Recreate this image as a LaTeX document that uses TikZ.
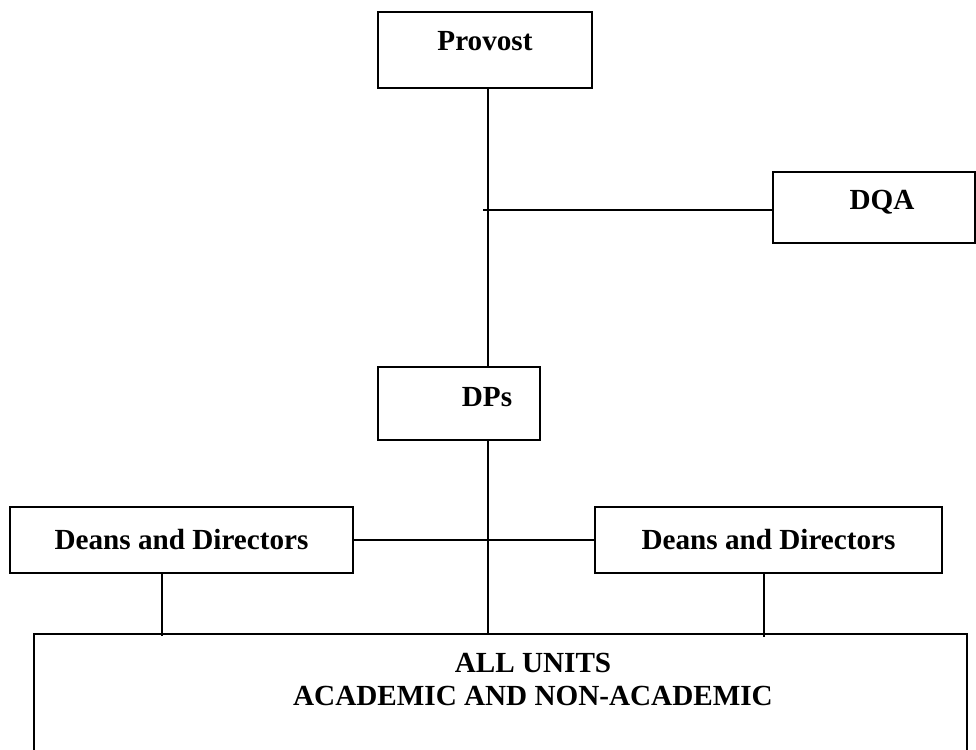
\documentclass[tikz,border=0pt]{standalone}
\usepackage{fontspec}
\setmainfont{Liberation Serif}
\usepackage{tikz}
\usetikzlibrary{positioning,calc}

\begin{document}
\begin{tikzpicture}[
    orgbox/.style = {draw, rectangle, line width=1.2pt, inner sep=0pt},
    boxtext/.style = {font=\fontsize{16.6pt}{18.8pt}\selectfont\bfseries},
    link/.style = {line width=0.9pt},
  ]
  \useasboundingbox (0,0) rectangle (19.52,-14.98);

  \node[orgbox, minimum width=4.28cm, minimum height=1.52cm,
        label={[boxtext, yshift=0.18cm]center:Provost}] (provost) at (9.70,-1.00) {};
  \node[orgbox, minimum width=4.04cm, minimum height=1.42cm,
        label={[boxtext, xshift=0.16cm, yshift=0.11cm]center:DQA}] (dqa) at (17.48,-4.15) {};
  \node[orgbox, minimum width=3.24cm, minimum height=1.46cm,
        below right=5.54cm and 0cm of provost.south west,
        label={[boxtext, xshift=0.56cm, yshift=0.13cm]center:DPs}] (dps) {};

  \node[orgbox, boxtext, minimum width=6.86cm, minimum height=1.32cm] (deansL) at (3.63,-10.80) {Deans and Directors};
  \node[orgbox, boxtext, minimum width=6.94cm, minimum height=1.32cm] (deansR) at (15.37,-10.80) {Deans and Directors};

  \node[orgbox, minimum width=18.66cm, minimum height=3.12cm,
        label={[boxtext, align=center, xshift=0.65cm, yshift=0.66cm]center:{ALL UNITS\\ACADEMIC AND NON-ACADEMIC}}] (all) at (10.01,-14.24) {};

  % main line down the middle
  \coordinate (spine) at ([xshift=0.06cm]provost.south);
  \coordinate (dqaend) at ($(dqa.west)+(0,-0.05)$);
  \draw[link] (spine) -- (spine |- dps.north);
  \draw[link] (dqaend) -- ($(spine |- dqaend)+(-0.1,0)$);
  \draw[link] (spine |- dps.south) -- (spine |- all.north);

  \draw[link] (deansL.east) -- (deansR.west);
  \draw[link] ($(deansL.south)+(-0.39,0.04)$) -- ($(deansL.south |- all.north)+(-0.39,-0.06)$);
  \draw[link] ($(deansR.south)+(-0.09,0)$) -- ($(deansR.south |- all.north)+(-0.09,-0.08)$);
\end{tikzpicture}
\end{document}
